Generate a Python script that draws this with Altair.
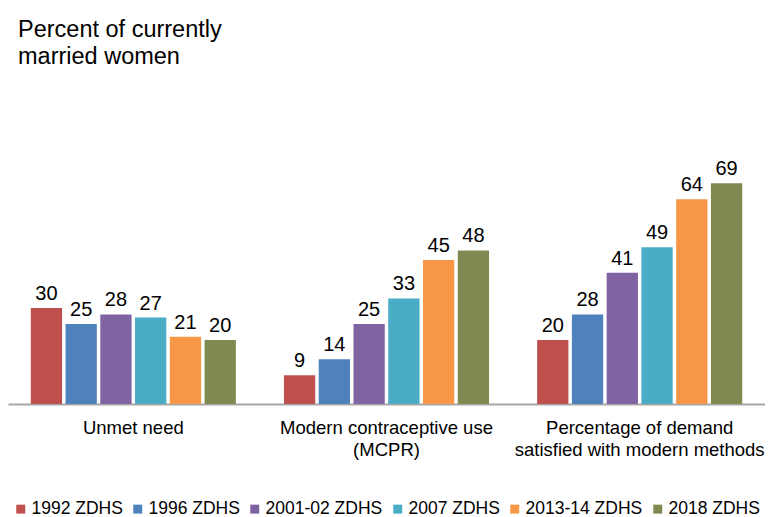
import altair as alt
import pandas as pd

categories = [
    "Unmet need",
    "Modern contraceptive use|(MCPR)",
    "Percentage of demand|satisfied with modern methods",
]
surveys = ["1992 ZDHS", "1996 ZDHS", "2001-02 ZDHS", "2007 ZDHS", "2013-14 ZDHS", "2018 ZDHS"]
unmet_need = [30, 25, 28, 27, 21, 20]
mcpr = [9, 14, 25, 33, 45, 48]
demand_satisfied = [20, 28, 41, 49, 64, 69]
colors = ["#C0504D", "#4F81BD", "#8064A2", "#4BACC6", "#F79646", "#7F8A50"]

rows = []
for cat, vals in zip(categories, [unmet_need, mcpr, demand_satisfied]):
    for s, v in zip(surveys, vals):
        rows.append({"category": cat, "survey": s, "value": v})
df = pd.DataFrame(rows)

FONT = "Liberation Sans"

base = alt.Chart(df).encode(
    x=alt.X(
        "category:N",
        sort=categories,
        scale=alt.Scale(paddingInner=0.19, paddingOuter=0.09),
        axis=alt.Axis(
            title=None,
            labelAngle=0,
            labelExpr="split(datum.label, '|')",
            labelFontSize=18.5,
            labelFont=FONT,
            labelColor="#000000",
            labelLineHeight=22,
            labelPadding=14,
            labelLimit=0,
            ticks=False,
            domainColor="#A6A6A6",
            domainWidth=2,
            grid=False,
        ),
    ),
    xOffset=alt.XOffset("survey:N", sort=surveys, scale=alt.Scale(paddingInner=0.1, paddingOuter=0)),
)

bars = base.mark_bar().encode(
    y=alt.Y("value:Q", scale=alt.Scale(domain=[0, 80]), axis=None),
    color=alt.Color(
        "survey:N",
        sort=surveys,
        scale=alt.Scale(domain=surveys, range=colors),
        legend=alt.Legend(
            title=None,
            orient="none",
            legendX=4,
            legendY=352,
            direction="horizontal",
            symbolType="square",
            symbolSize=80,
            symbolStrokeWidth=0,
            labelFontSize=17.5,
            labelFont=FONT,
            labelColor="#000000",
            labelOffset=2,
            columnPadding=6,
            labelLimit=0,
            padding=0,
        ),
    ),
)

labels = base.mark_text(
    baseline="alphabetic", dy=-8, fontSize=20, font=FONT, color="#000000"
).encode(
    y=alt.Y("value:Q"),
    text=alt.Text("value:Q"),
)

chart = (
    alt.layer(bars, labels)
    .properties(
        width=757,
        height=256,
        autosize=alt.AutoSizeParams(type="none"),
        padding={"left": 0, "top": 140, "right": 0, "bottom": 113},
        title=alt.Title(
            ["Percent of currently", "married women"],
            anchor="start",
            fontSize=23.5,
            font=FONT,
            fontWeight="normal",
            color="#000000",
            lineHeight=27,
            offset=80,
            dx=10,
        ),
    )
    .configure_view(stroke=None)
)

chart.save("out.html", embed_options={"renderer": "svg", "actions": False})
